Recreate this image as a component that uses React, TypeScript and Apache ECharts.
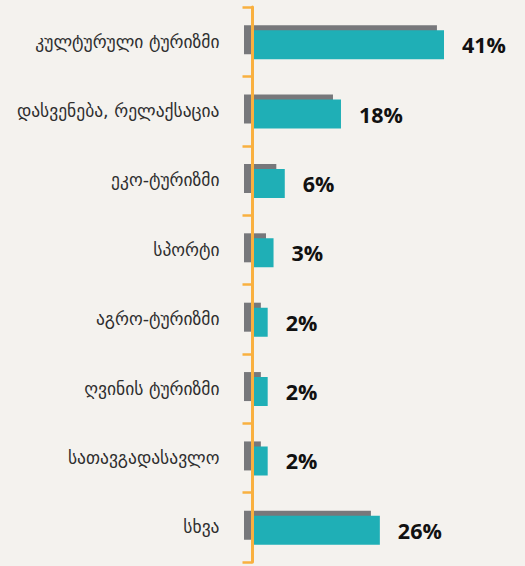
import React, { useEffect, useRef } from "react";
import * as echarts from "echarts";

const categories = [
  "კულტურული ტურიზმი",
  "დასვენება, რელაქსაცია",
  "ეკო-ტურიზმი",
  "სპორტი",
  "აგრო-ტურიზმი",
  "ღვინის ტურიზმი",
  "სათავგადასავლო",
  "სხვა",
];
const tealValues = [41, 19, 7, 4.6, 3.35, 3.35, 3.35, 27.3];
const grayValues = [41.2, 19, 6.9, 4.7, 3.6, 3.6, 3.6, 27.1];
const valueLabels = ["41%", "18%", "6%", "3%", "2%", "2%", "2%", "26%"];

export default function App() {
  const ref = useRef<HTMLDivElement>(null);
  useEffect(() => {
    const chart = echarts.init(ref.current!, null, { renderer: "svg" });
    const W = 234.15;
    const H = 555;
    chart.setOption({
      animation: false,
      backgroundColor: "#F4F2EE",
      grid: [
        { left: 252.5, top: 7, width: W, height: H },
        { left: 244, top: 5, width: W, height: H },
        { left: 252, top: 10, width: W, height: H },
      ],
      xAxis: [0, 1, 2].map((i) => ({
        type: "value",
        gridIndex: i,
        min: 0,
        max: 50,
        show: false,
      })),
      yAxis: [
        {
          type: "category",
          gridIndex: 0,
          data: categories,
          inverse: true,
          z: 10,
          axisLine: { show: true, lineStyle: { color: "#F9B03F", width: 3 } },
          axisTick: {
            show: true,
            length: 10,
            lineStyle: { color: "#F9B03F", width: 2.5 },
          },
          axisLabel: {
            margin: 33,
            fontFamily: "DejaVu Sans",
            fontSize: 17.5,
            color: "#2E2E2E",
          },
          splitLine: { show: false },
        },
        { type: "category", gridIndex: 1, data: categories, inverse: true, show: false },
        { type: "category", gridIndex: 2, data: categories, inverse: true, show: false },
      ],
      series: [
        {
          type: "bar",
          xAxisIndex: 1,
          yAxisIndex: 1,
          data: grayValues,
          barWidth: 29,
          itemStyle: { color: "#77787B" },
          z: 2,
        },
        {
          type: "bar",
          xAxisIndex: 2,
          yAxisIndex: 2,
          data: tealValues,
          barWidth: 29,
          itemStyle: { color: "#1FAFB6" },
          z: 3,
          label: {
            show: true,
            position: "right",
            distance: 18,
            formatter: (p: any) => valueLabels[p.dataIndex],
            fontFamily: "Open Sans",
            fontWeight: "bold",
            fontSize: 21.5,
            color: "#111111",
          },
        },
      ],
    });
    return () => chart.dispose();
  }, []);
  return (
    <div
      ref={ref}
      style={{ position: "absolute", left: 0, top: 0, width: 525, height: 566 }}
    />
  );
}
